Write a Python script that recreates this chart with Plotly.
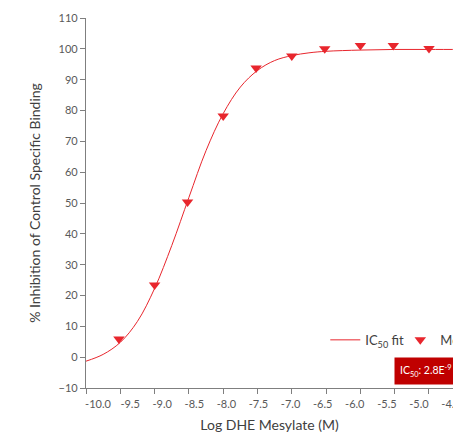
import plotly.graph_objects as go

# Measured points (log M, % inhibition)
log_conc = [-9.52, -9.0, -8.52, -8.0, -7.52, -7.0, -6.52, -6.0, -5.52, -5.0]
inhibition = [5.9, 23.4, 50.3, 78.2, 93.8, 97.7, 100.0, 101.1, 101.1, 100.1]

# Fitted IC50 curve
fit_x = [-10.0, -9.75, -9.5, -9.25, -9.0, -8.75, -8.5, -8.25, -8.0, -7.75, -7.5,
         -7.25, -7.0, -6.75, -6.5, -6.0, -5.5, -5.0, -4.5]
fit_y = [-1.3, 0.9, 4.8, 11.6, 22.3, 36.2, 51.8, 67.0, 79.0, 87.6, 93.0,
         96.2, 97.8, 98.7, 99.2, 99.6, 99.8, 99.8, 99.8]

x_tick_vals = [-10.0, -9.5, -9.0, -8.5, -8.0, -7.5, -7.0, -6.5, -6.0, -5.5, -5.0, -4.5]
x_tick_text = ["-10.0", "-9.5", "-9.0", "-8.5", "-8.0", "-7.5", "-7.0", "-6.5",
               "-6.0", "-5.5", "-5.0", "-4.5"]
y_tick_vals = [-10, 0, 10, 20, 30, 40, 50, 60, 70, 80, 90, 100, 110]

RED = "#E8262D"
TXT = "#595959"
FONT = "Lato"

fig = go.Figure()
fig.add_trace(go.Scatter(x=fit_x, y=fit_y, mode="lines", line=dict(color=RED, width=1, shape="spline"),
                         name="IC<sub>50</sub> fit", hoverinfo="skip"))
fig.add_trace(go.Scatter(x=log_conc, y=inhibition, mode="markers",
                         marker=dict(symbol="triangle-down", size=10, color=RED),
                         name="Mean values"))
# helper trace to register label axis
fig.add_trace(go.Scatter(x=x_tick_vals, y=[None] * len(x_tick_vals), xaxis="x2",
                         showlegend=False, hoverinfo="skip"))

fig.update_layout(
    width=453, height=436,
    margin=dict(l=86, r=0, t=18, b=48, autoexpand=False),
    paper_bgcolor="white", plot_bgcolor="white",
    font=dict(family=FONT, color=TXT, size=11),
    xaxis=dict(range=[-10.0, -4.65], tickvals=x_tick_vals, showticklabels=False,
               ticks="outside", ticklen=5, tickcolor="#7f7f7f",
               showline=True, linecolor="#7f7f7f", linewidth=1.2,
               showgrid=False, zeroline=False),
    xaxis2=dict(range=[-10.187, -4.47], overlaying="x", side="bottom", anchor="y",
                tickvals=x_tick_vals, ticktext=x_tick_text, tickangle=0,
                ticklabeloverflow="allow",
                ticks="outside", ticklen=6, tickcolor="rgba(0,0,0,0)",
                showline=False, showgrid=False, zeroline=False,
                tickfont=dict(size=11, color=TXT),
                title=dict(text="Log DHE Mesylate (M)", font=dict(size=14, color="#404040"), standoff=10)),
    yaxis=dict(range=[-10, 110], tickvals=y_tick_vals,
               ticks="outside", ticklen=5, tickcolor="#7f7f7f",
               showline=True, linecolor="#7f7f7f", linewidth=1.2,
               showgrid=False, zeroline=False, tickfont=dict(size=11, color=TXT),
               title=dict(text="% Inhibition of Control Specific Binding",
                          font=dict(size=14, color="#404040"), standoff=14)),
    legend=dict(orientation="h", x=0.652, y=0.13, xanchor="left", yanchor="middle",
                entrywidth=30, bgcolor="rgba(0,0,0,0)", font=dict(size=13, color="#404040")),
    showlegend=True,
)

fig.add_annotation(xref="paper", yref="paper", x=0.84, y=0.045, xanchor="left", yanchor="middle",
                   text="IC<sub>50</sub>: 2.8E<sup>-9</sup>", showarrow=False,
                   bgcolor="#C00000", font=dict(color="white", size=10.5), borderpad=5,
                   width=72, align="left")

fig.write_html("out.html")
